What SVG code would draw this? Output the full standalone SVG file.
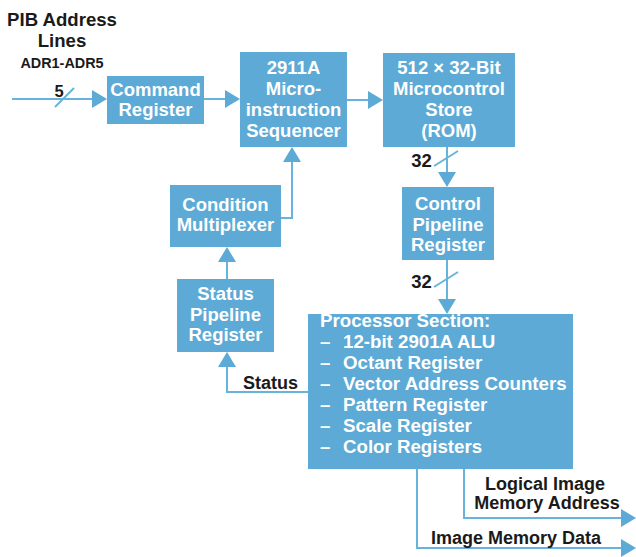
<svg xmlns="http://www.w3.org/2000/svg" width="636" height="557" viewBox="0 0 636 557">
<style>
.box{fill:#5caad5}
.bt{font-family:"Liberation Sans",Arial,sans-serif;font-weight:bold;font-size:18.5px;fill:#ffffff}
.pt{font-size:18.7px}
.c{text-anchor:middle}
.lbl{font-family:"Liberation Sans",Arial,sans-serif;font-weight:bold;font-size:18px;fill:#1a1a1a}
.ln{stroke:#66b3dc;stroke-width:2;fill:none}
.ah{fill:#5caad5}
</style>
<rect width="636" height="557" fill="#ffffff"/>
<g id="title">
<text class="lbl c" x="62" y="26" style="font-size:18.6px">PIB Address</text>
<text class="lbl c" x="62" y="47" style="font-size:18.6px">Lines</text>
<text class="lbl c" x="62" y="68" style="font-size:14.4px">ADR1-ADR5</text>
</g>
<g id="command-register">
<rect class="box" x="107" y="76" width="97" height="48"/>
<text class="bt c" x="155.5" y="96">Command</text>
<text class="bt c" x="155.5" y="116">Register</text>
</g>
<g id="sequencer">
<rect class="box" x="240" y="52" width="107" height="95"/>
<text class="bt c" x="293.5" y="74">2911A</text>
<text class="bt c" x="293.5" y="95">Micro-</text>
<text class="bt c" x="293.5" y="116">instruction</text>
<text class="bt c" x="293.5" y="137">Sequencer</text>
</g>
<g id="rom">
<rect class="box" x="383" y="53" width="132" height="94"/>
<text class="bt c" x="449" y="74">512 × 32-Bit</text>
<text class="bt c" x="449" y="95">Microcontrol</text>
<text class="bt c" x="449" y="116">Store</text>
<text class="bt c" x="449" y="137">(ROM)</text>
</g>
<g id="control-pipeline">
<rect class="box" x="402" y="187" width="92" height="73"/>
<text class="bt c" x="448" y="209.5">Control</text>
<text class="bt c" x="448" y="230.5">Pipeline</text>
<text class="bt c" x="448" y="251">Register</text>
</g>
<g id="condition-mux">
<rect class="box" x="170" y="185" width="111" height="62"/>
<text class="bt c" x="225.5" y="210.5">Condition</text>
<text class="bt c" x="225.5" y="231">Multiplexer</text>
</g>
<g id="status-pipeline">
<rect class="box" x="177" y="279" width="97" height="73"/>
<text class="bt c" x="225.5" y="299.5">Status</text>
<text class="bt c" x="225.5" y="320.5">Pipeline</text>
<text class="bt c" x="225.5" y="341">Register</text>
</g>
<g id="processor">
<rect class="box" x="308" y="314" width="265" height="155"/>
<text class="bt pt" x="320" y="327">Processor Section:</text>
<text class="bt pt" x="320" y="348">–</text><text class="bt pt" x="343" y="348">12-bit 2901A ALU</text>
<text class="bt pt" x="320" y="369">–</text><text class="bt pt" x="343" y="369">Octant Register</text>
<text class="bt pt" x="320" y="390">–</text><text class="bt pt" x="343" y="390">Vector Address Counters</text>
<text class="bt pt" x="320" y="411">–</text><text class="bt pt" x="343" y="411">Pattern Register</text>
<text class="bt pt" x="320" y="432">–</text><text class="bt pt" x="343" y="432">Scale Register</text>
<text class="bt pt" x="320" y="453">–</text><text class="bt pt" x="343" y="453">Color Registers</text>
</g>
<g id="connectors">
<path class="ln" d="M12 99H95"/>
<path class="ln" d="M55 107L74 88"/>
<polygon class="ah" points="107,99 92,90 92,108"/>
<path class="ln" d="M204 99H226"/>
<polygon class="ah" points="240,99 225,90 225,108"/>
<path class="ln" d="M347 100H369"/>
<polygon class="ah" points="383,100 368,91 368,109"/>
<path class="ln" d="M447 147V174"/>
<path class="ln" d="M434 166L458 151"/>
<polygon class="ah" points="447,187 438,172 456,172"/>
<path class="ln" d="M447 260V301"/>
<path class="ln" d="M434 287L458 272"/>
<polygon class="ah" points="447,314 438,299 456,299"/>
<path class="ln" d="M281 218H292V160"/>
<polygon class="ah" points="292,147 283,162 301,162"/>
<path class="ln" d="M227 279V260"/>
<polygon class="ah" points="227,247 218,262 236,262"/>
<path class="ln" d="M308 392H227V365"/>
<polygon class="ah" points="227,352 218,367 236,367"/>
<path class="ln" d="M464 469V518H623"/>
<polygon class="ah" points="636,518 621,509 621,527"/>
<path class="ln" d="M417 469V548H623"/>
<polygon class="ah" points="636,548 621,539 621,557"/>
</g>
<g id="labels">
<text class="lbl c" x="59" y="97" style="font-size:16.5px">5</text>
<text class="lbl c" x="421.5" y="167" style="font-size:18.5px">32</text>
<text class="lbl c" x="421.5" y="288" style="font-size:18.5px">32</text>
<text class="lbl c" x="270.5" y="389">Status</text>
<text class="lbl c" x="545" y="490">Logical Image</text>
<text class="lbl c" x="547" y="509">Memory Address</text>
<text class="lbl c" x="516" y="544">Image Memory Data</text>
</g>
</svg>
